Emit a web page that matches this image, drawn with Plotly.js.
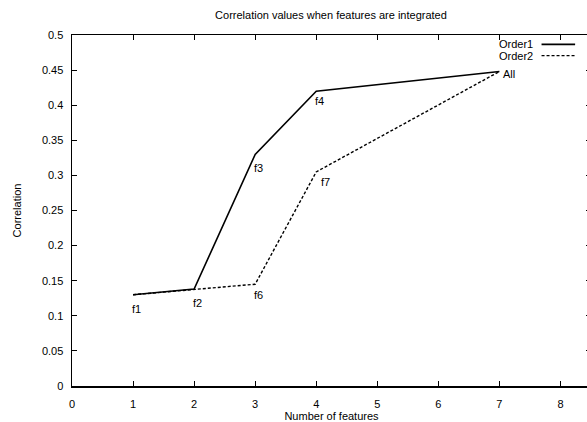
<!DOCTYPE html>
<html>
<head>
<meta charset="utf-8">
<script src="https://cdn.plot.ly/plotly-3.0.1.min.js"></script>
<style>
html,body{margin:0;padding:0;overflow:hidden;background:#fff;}
#chart{width:591px;height:422px;}
</style>
</head>
<body>
<div id="chart"></div>
<script>
// Data
const order1X = [1, 2, 3, 4, 7];
const order1Y = [0.13, 0.138, 0.33, 0.42, 0.448];
const order2X = [1, 2, 3, 4, 7];
const order2Y = [0.13, 0.138, 0.145, 0.305, 0.448];
const labelText = ["f1", "f2", "f6", "f3", "f4", "f7", "All"];
const labelX = [1.0, 2.0, 3.0, 3.0, 4.0, 4.1, 7.07];
const labelY = [0.11, 0.118, 0.13, 0.31, 0.406, 0.29, 0.444];
const seriesNames = ["Order1", "Order2"];

const font = {family: "Liberation Sans, Arial, sans-serif", size: 11, color: "#000"};

const traces = [
  {x: order1X, y: order1Y, mode: "lines", name: seriesNames[0],
   line: {color: "#000", width: 1.6}, showlegend: false},
  {x: order2X, y: order2Y, mode: "lines", name: seriesNames[1],
   line: {color: "#000", width: 1.4, dash: "3px,2px"}, showlegend: false}
];

const annotations = labelText.map((t, i) => ({
  x: labelX[i], y: labelY[i], xref: "x", yref: "y", text: t,
  showarrow: false, xanchor: "left", yanchor: "middle", font: font, xshift: -3
}));

// legend (gnuplot style: text then sample)
const legY = [0.4866, 0.4706];
seriesNames.forEach((n, i) => {
  annotations.push({x: 7.60, y: legY[i], xref: "x", yref: "y", text: n,
    showarrow: false, xanchor: "right", yanchor: "middle", font: font, xshift: -1});
});

const layout = {
  width: 591, height: 422,
  margin: {l: 72, r: 0, t: 35, b: 36},
  paper_bgcolor: "#fff", plot_bgcolor: "#fff",
  font: font,
  title: {text: "Correlation values when features are integrated", font: font,
          x: 0.56, xanchor: "center", y: 0.964, yanchor: "middle"},
  xaxis: {range: [0, 8.5], dtick: 1, tick0: 0, ticks: "inside", ticklen: 5,
          tickcolor: "#000", tickwidth: 1, showline: true, linecolor: "#000", linewidth: 1.5,
          mirror: "ticks", showgrid: false, zeroline: false, tickfont: font,
          ticklabelstandoff: 7,
          title: {text: "Number of features", font: font, standoff: 6}},
  yaxis: {range: [0, 0.5], dtick: 0.05, tick0: 0, ticks: "inside", ticklen: 5,
          tickcolor: "#000", tickwidth: 1, showline: true, linecolor: "#000", linewidth: 1.5,
          mirror: "ticks", showgrid: false, zeroline: false, tickfont: font,
          ticklabelstandoff: 5,
          title: {text: "Correlation", font: font, standoff: 18}},
  annotations: annotations,
  shapes: [
    {type: "line", xref: "x", yref: "y", x0: 7.69, x1: 8.24, y0: legY[0], y1: legY[0],
     line: {color: "#000", width: 1.6}},
    {type: "line", xref: "x", yref: "y", x0: 7.69, x1: 8.24, y0: legY[1], y1: legY[1],
     line: {color: "#000", width: 1.4, dash: "3px,2px"}}
  ]
};

Plotly.newPlot("chart", traces, layout, {displayModeBar: false, staticPlot: true});
</script>
</body>
</html>
